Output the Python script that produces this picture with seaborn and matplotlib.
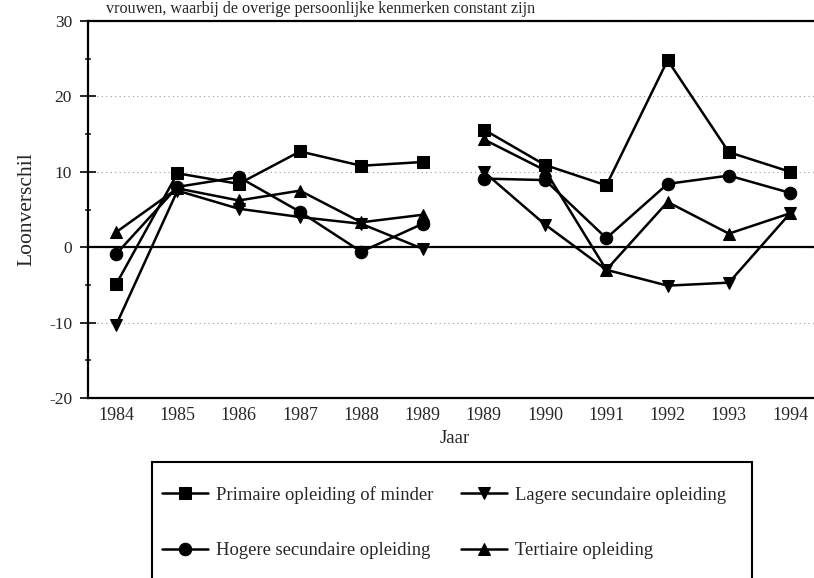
import pandas as pd
import matplotlib.pyplot as plt
import matplotlib.patches as mpatches
import seaborn as sns

# data (loonverschil per opleidingsniveau)
jaren = ["1984", "1985", "1986", "1987", "1988", "1989",
         "1989", "1990", "1991", "1992", "1993", "1994"]
periode = [1, 1, 1, 1, 1, 1, 2, 2, 2, 2, 2, 2]

primaire = [-4.9, 9.8, 8.4, 12.7, 10.8, 11.3, 15.6, 10.9, 8.2, 24.8, 12.6, 10.0]
lagere = [-10.3, 7.5, 5.1, 4.0, 3.1, -0.2, 10.0, 3.0, -3.0, -5.1, -4.7, 4.5]
hogere = [-0.9, 8.0, 9.3, 4.7, -0.6, 3.1, 9.1, 8.9, 1.2, 8.4, 9.5, 7.2]
tertiaire = [2.0, 7.8, 6.2, 7.5, 3.3, 4.3, 14.3, 10.2, -3.0, 6.0, 1.8, 4.5]

reeksen = {
    "Primaire opleiding of minder": primaire,
    "Hogere secundaire opleiding": hogere,
    "Lagere secundaire opleiding": lagere,
    "Tertiaire opleiding": tertiaire,
}
markers = {
    "Primaire opleiding of minder": "s",
    "Hogere secundaire opleiding": "o",
    "Lagere secundaire opleiding": "v",
    "Tertiaire opleiding": "^",
}

rows = []
for naam, waarden in reeksen.items():
    for i, v in enumerate(waarden):
        rows.append({"pos": i, "waarde": v, "reeks": naam, "periode": periode[i]})
df = pd.DataFrame(rows)

sns.set_style("ticks")
plt.rcParams["font.family"] = ["Liberation Serif", "DejaVu Serif"]
plt.rcParams["axes.unicode_minus"] = False

fig = plt.figure(figsize=(8.14, 5.78), dpi=100)
ax = fig.add_axes([88 / 814, 180 / 578, 732.8 / 814, 377 / 578])

sns.lineplot(data=df, x="pos", y="waarde", hue="reeks", style="reeks",
             units="periode", estimator=None,
             hue_order=list(reeksen), style_order=list(reeksen),
             palette={k: "black" for k in reeksen}, markers=markers,
             dashes=False, markersize=9, linewidth=1.8,
             markeredgecolor="black", ax=ax)

ax.axhline(0, color="black", lw=1.6, zorder=1)

ax.set_xlim(-0.46, 11.5)
ax.set_ylim(-20, 30)
ax.set_xticks(range(len(jaren)))
ax.set_xticklabels(jaren)
ax.set_yticks([-20, -10, 0, 10, 20, 30])
ax.set_yticks([-15, -5, 5, 15, 25], minor=True)
ax.tick_params(axis="x", length=0, pad=6.5, labelsize=13)
ax.tick_params(axis="y", which="major", direction="inout", length=12,
               width=1.4, pad=5.5, labelsize=12.5)
ax.tick_params(axis="y", which="minor", direction="inout", length=4.5, width=1.2)

ax.yaxis.grid(True, which="major", linestyle=(0, (1, 3)), color="#999999", lw=0.8)
ax.set_axisbelow(True)
for s in ["left", "bottom", "top"]:
    ax.spines[s].set_linewidth(1.6)
    ax.spines[s].set_color("black")
ax.spines["right"].set_visible(False)

ax.set_xlabel("Jaar", fontsize=13.5, labelpad=4)
ax.set_ylabel("Loonverschil", fontsize=15.5, labelpad=9)

fig.text(106 / 814, 1 - 13 / 578,
         "vrouwen, waarbij de overige persoonlijke kenmerken constant zijn",
         fontsize=11.6, va="baseline", ha="left")

# legend in a box under the chart
handles, labels = ax.get_legend_handles_labels()
ax.get_legend().remove()
fig.legend(handles, labels, ncol=2, loc="upper left",
           bbox_to_anchor=(162 / 814, 1 - 486 / 578),
           frameon=False, fontsize=13.4, handlelength=2.45,
           handletextpad=0.45, columnspacing=1.5, labelspacing=2.05,
           borderpad=0, borderaxespad=0)
fig.patches.append(mpatches.Rectangle((152 / 814, -0.05), 600 / 814, 0.05 + 1 - 462 / 578,
                                      transform=fig.transFigure, fill=False,
                                      edgecolor="black", lw=1.5))

fig.savefig("out.png", dpi=100)
